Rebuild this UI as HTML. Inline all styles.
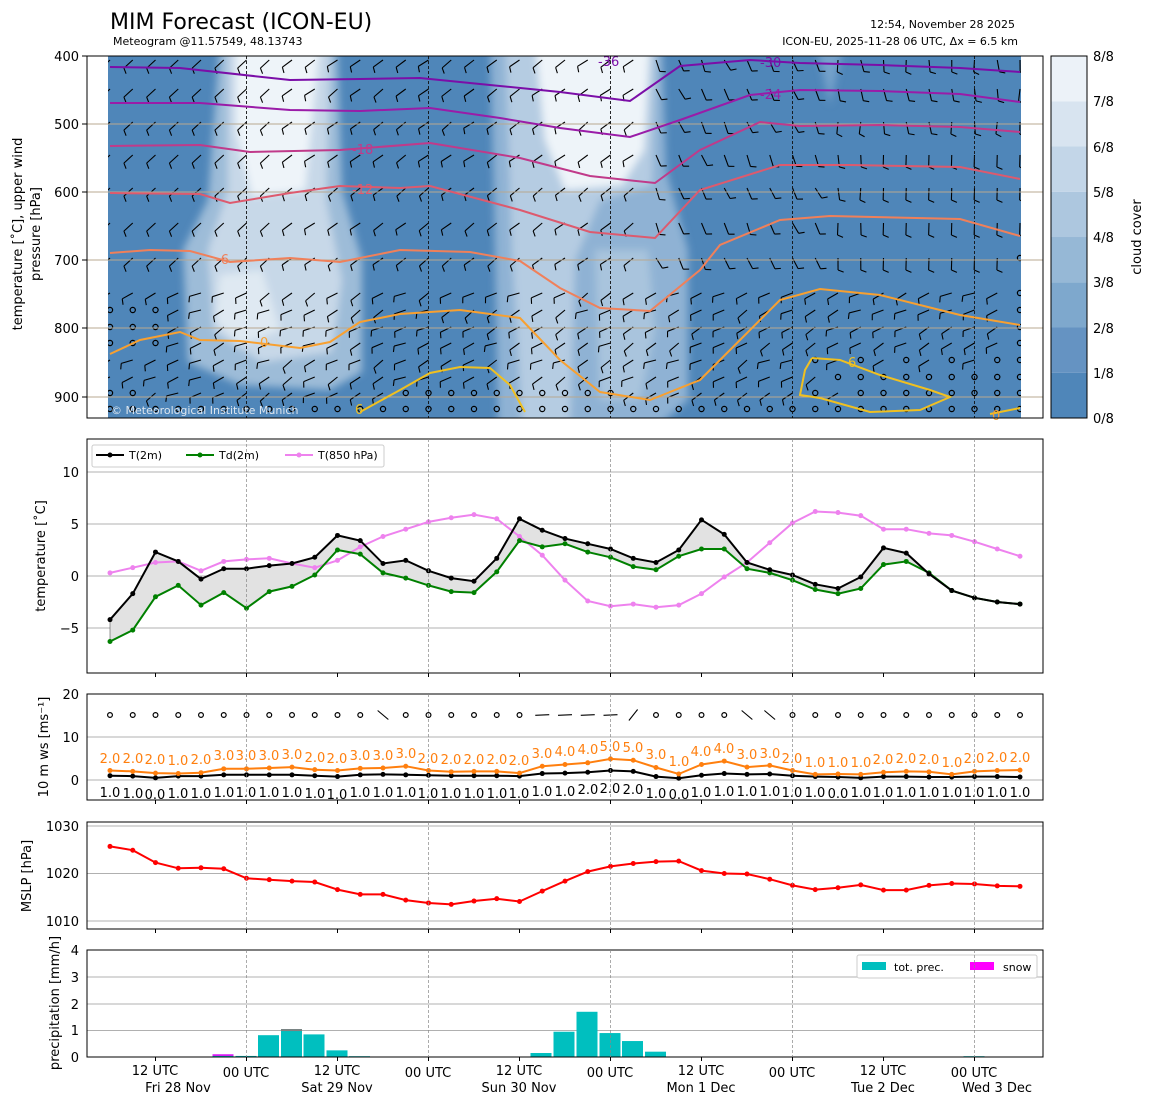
<!DOCTYPE html>
<html><head><meta charset="utf-8"><style>
html,body{margin:0;padding:0;background:#fff;width:1155px;height:1105px;overflow:hidden}
svg{display:block;font-family:"DejaVu Sans","Liberation Sans",sans-serif}
</style></head><body>
<svg id="s" width="1155" height="1105" viewBox="0 0 1155 1105" xmlns="http://www.w3.org/2000/svg">
<defs>
<clipPath id="cp"><rect x="108" y="56" width="913" height="362"/></clipPath>
<filter id="bl" x="-20%" y="-20%" width="140%" height="140%"><feGaussianBlur stdDeviation="4"/></filter>
</defs>
<rect x="108" y="56" width="913" height="362" fill="#4f86b9"/>
<g clip-path="url(#cp)"><g filter="url(#bl)">
<path d="M220,40 L337,40 L342,190 L362,260 L362,372 L330,390 L240,385 L188,362 L183,250 L208,200 Z" fill="#9dbcd8"/>
<path d="M228,40 L330,40 L326,200 L342,280 L332,352 L262,362 L214,332 L208,250 L228,190 Z" fill="#c7d8e8"/>
<path d="M236,40 L320,40 L305,190 L252,196 L236,130 Z" fill="#eef4f9"/>
<path d="M220,275 L262,270 L280,330 L240,345 L215,320 Z" fill="#dfe9f2"/>
<path d="M490,40 L662,40 L666,170 L688,250 L688,400 L660,425 L498,425 L494,200 Z" fill="#8fb2d4"/>
<path d="M505,40 L656,40 L652,185 L600,200 L575,260 L570,425 L522,425 L512,250 Z" fill="#b5cce2"/>
<path d="M595,250 L648,250 L655,330 L640,400 L600,400 Z" fill="#a9c4dd"/>
<path d="M535,40 L650,40 L644,150 L622,185 L565,190 L545,140 Z" fill="#eef4f9"/>
<path d="M815,40 L845,40 L830,105 Z" fill="#75a1ca"/>
</g></g>
<g id="barbs" clip-path="url(#cp)"></g>
<g stroke="#b8a890" stroke-width="1">
<line x1="87" x2="1043" y1="124" y2="124"/><line x1="87" x2="1043" y1="192" y2="192"/><line x1="87" x2="1043" y1="260" y2="260"/><line x1="87" x2="1043" y1="328" y2="328"/><line x1="87" x2="1043" y1="397" y2="397"/>
</g>
<g stroke="#111" stroke-width="0.9" stroke-dasharray="3,2">
<line x1="246.5" x2="246.5" y1="56" y2="418"/><line x1="428.5" x2="428.5" y1="56" y2="418"/><line x1="610.5" x2="610.5" y1="56" y2="418"/><line x1="792.5" x2="792.5" y1="56" y2="418"/><line x1="974.5" x2="974.5" y1="56" y2="418"/>
</g>
<g id="cont" clip-path="url(#cp)" fill="none" stroke-width="2"></g>
<g font-size="13">
<text x="598" y="66" fill="#7b0ea8">-36</text><text x="760" y="67" fill="#7b0ea8">-30</text>
<text x="760" y="99" fill="#9a1ca8">-24</text><text x="352" y="154" fill="#c03a8a">-18</text>
<text x="352" y="194" fill="#dd5a6e">-12</text><text x="260" y="347" fill="#f8a030">0</text>
<text x="848" y="367" fill="#f0c020">6</text><text x="216" y="264" fill="#f0805a">-6</text>
<text x="355" y="414" fill="#f0c020">6</text><text x="992" y="420" fill="#f8a030">0</text>
</g>
<text x="111" y="414" font-size="11" fill="#dde6ef">© Meteorological Institute Munich</text>
<rect x="87" y="56" width="956" height="362" fill="none" stroke="#000" stroke-width="1"/>
<g font-size="13" text-anchor="end"><text x="79" y="61">400</text><text x="79" y="129">500</text><text x="79" y="197">600</text><text x="79" y="265">700</text><text x="79" y="333">800</text><text x="79" y="402">900</text></g>
<g stroke="#000"><line x1="82" x2="87" y1="56" y2="56"/><line x1="82" x2="87" y1="124" y2="124"/><line x1="82" x2="87" y1="192" y2="192"/><line x1="82" x2="87" y1="260" y2="260"/><line x1="82" x2="87" y1="328" y2="328"/><line x1="82" x2="87" y1="397" y2="397"/></g>
<text font-size="13" text-anchor="middle" transform="translate(22,234) rotate(-90)">temperature [˚C], upper wind</text>
<text font-size="13" text-anchor="middle" transform="translate(40,234) rotate(-90)">pressure [hPa]</text>
<g id="cbar"></g>
<rect x="1051" y="56" width="36" height="362" fill="none" stroke="#000"/>
<g font-size="13"><text x="1093" y="423">0/8</text><text x="1093" y="378">1/8</text><text x="1093" y="333">2/8</text><text x="1093" y="287">3/8</text><text x="1093" y="242">4/8</text><text x="1093" y="197">5/8</text><text x="1093" y="152">6/8</text><text x="1093" y="106">7/8</text><text x="1093" y="61">8/8</text></g>
<text font-size="13" text-anchor="middle" transform="translate(1141,237) rotate(-90)">cloud cover</text>
<text x="110" y="29" font-size="22">MIM Forecast (ICON-EU)</text>
<text x="113" y="45" font-size="11">Meteogram @11.57549, 48.13743</text>
<text x="1015" y="28" font-size="11" text-anchor="end">12:54, November 28 2025</text>
<text x="1018" y="45" font-size="11" text-anchor="end">ICON-EU, 2025-11-28 06 UTC, Δx = 6.5 km</text>

<g stroke="#b0b0b0"><line x1="87" x2="1043" y1="472" y2="472"/><line x1="87" x2="1043" y1="524" y2="524"/><line x1="87" x2="1043" y1="576" y2="576"/><line x1="87" x2="1043" y1="628" y2="628"/></g>
<g id="tp"></g>
<rect x="87" y="439" width="956" height="234" fill="none" stroke="#000"/>
<g font-size="13" text-anchor="end"><text x="79" y="477">10</text><text x="79" y="529">5</text><text x="79" y="581">0</text><text x="79" y="633">−5</text></g>
<text font-size="13" text-anchor="middle" transform="translate(45,556) rotate(-90)">temperature [˚C]</text>
<rect x="92" y="445" width="292" height="22" fill="#fff" stroke="#ccc" rx="2"/>
<line x1="96" x2="124" y1="455" y2="455" stroke="#000" stroke-width="2"/><circle cx="110" cy="455" r="2.5"/>
<text x="129" y="459" font-size="11">T(2m)</text>
<line x1="186" x2="214" y1="455" y2="455" stroke="#008000" stroke-width="2"/><circle cx="200" cy="455" r="2.5" fill="#008000"/>
<text x="219" y="459" font-size="11">Td(2m)</text>
<line x1="285" x2="313" y1="455" y2="455" stroke="#ee82ee" stroke-width="2"/><circle cx="299" cy="455" r="2.5" fill="#ee82ee"/>
<text x="318" y="459" font-size="11">T(850 hPa)</text>

<g stroke="#b0b0b0"><line x1="87" x2="1043" y1="737" y2="737"/><line x1="87" x2="1043" y1="780" y2="780"/></g>
<g id="wp"></g>
<rect x="87" y="694" width="956" height="106" fill="none" stroke="#000"/>
<g font-size="13" text-anchor="end"><text x="79" y="699">20</text><text x="79" y="742">10</text><text x="79" y="785">0</text></g>
<text font-size="13" text-anchor="middle" transform="translate(48,747) rotate(-90)">10 m ws [ms⁻¹]</text>
<g font-size="13" fill="#ff7f0e" text-anchor="middle">
<text x="110" y="763">2.0</text><text x="133" y="763">2.0</text><text x="155" y="764">2.0</text><text x="178" y="765">1.0</text><text x="201" y="764">2.0</text><text x="224" y="760">3.0</text><text x="246" y="760">3.0</text><text x="269" y="760">3.0</text><text x="292" y="759">3.0</text><text x="315" y="762">2.0</text><text x="337" y="763">2.0</text><text x="360" y="760">3.0</text><text x="383" y="760">3.0</text><text x="406" y="758">3.0</text><text x="428" y="763">2.0</text><text x="451" y="764">2.0</text><text x="474" y="764">2.0</text><text x="497" y="764">2.0</text><text x="519" y="765">2.0</text><text x="542" y="758">3.0</text><text x="565" y="756">4.0</text><text x="588" y="754">4.0</text><text x="610" y="751">5.0</text><text x="633" y="752">5.0</text><text x="656" y="759">3.0</text><text x="679" y="766">1.0</text><text x="701" y="756">4.0</text><text x="724" y="753">4.0</text><text x="747" y="759">3.0</text><text x="770" y="758">3.0</text><text x="792" y="763">2.0</text><text x="815" y="767">1.0</text><text x="838" y="767">1.0</text><text x="861" y="767">1.0</text><text x="883" y="764">2.0</text><text x="906" y="763">2.0</text><text x="929" y="764">2.0</text><text x="952" y="767">1.0</text><text x="974" y="763">2.0</text><text x="997" y="762">2.0</text><text x="1020" y="762">2.0</text>
</g>
<g font-size="13" fill="#000" text-anchor="middle">
<text x="110" y="797">1.0</text><text x="133" y="798">1.0</text><text x="155" y="799">0.0</text><text x="178" y="798">1.0</text><text x="201" y="798">1.0</text><text x="224" y="797">1.0</text><text x="246" y="797">1.0</text><text x="269" y="797">1.0</text><text x="292" y="797">1.0</text><text x="315" y="798">1.0</text><text x="337" y="799">1.0</text><text x="360" y="797">1.0</text><text x="383" y="797">1.0</text><text x="406" y="797">1.0</text><text x="428" y="798">1.0</text><text x="451" y="798">1.0</text><text x="474" y="798">1.0</text><text x="497" y="798">1.0</text><text x="519" y="798">1.0</text><text x="542" y="796">1.0</text><text x="565" y="796">1.0</text><text x="588" y="794">2.0</text><text x="610" y="793">2.0</text><text x="633" y="794">2.0</text><text x="656" y="798">1.0</text><text x="679" y="799">0.0</text><text x="701" y="797">1.0</text><text x="724" y="796">1.0</text><text x="747" y="796">1.0</text><text x="770" y="796">1.0</text><text x="792" y="797">1.0</text><text x="815" y="797">1.0</text><text x="838" y="798">0.0</text><text x="861" y="797">1.0</text><text x="883" y="797">1.0</text><text x="906" y="797">1.0</text><text x="929" y="797">1.0</text><text x="952" y="797">1.0</text><text x="974" y="797">1.0</text><text x="997" y="797">1.0</text><text x="1020" y="797">1.0</text>
</g>

<g stroke="#b0b0b0"><line x1="87" x2="1043" y1="826" y2="826"/><line x1="87" x2="1043" y1="873.5" y2="873.5"/><line x1="87" x2="1043" y1="921" y2="921"/></g>
<g id="mp"></g>
<rect x="87" y="822" width="956" height="107" fill="none" stroke="#000"/>
<g font-size="13" text-anchor="end"><text x="79" y="831">1030</text><text x="79" y="878">1020</text><text x="79" y="926">1010</text></g>
<text font-size="13" text-anchor="middle" transform="translate(31,876) rotate(-90)">MSLP [hPa]</text>

<g stroke="#b0b0b0"><line x1="87" x2="1043" y1="977" y2="977"/><line x1="87" x2="1043" y1="1004" y2="1004"/><line x1="87" x2="1043" y1="1030.5" y2="1030.5"/></g>
<g id="pp"></g>
<rect x="87" y="950" width="956" height="107" fill="none" stroke="#000"/>
<g font-size="13" text-anchor="end"><text x="79" y="955">4</text><text x="79" y="982">3</text><text x="79" y="1009">2</text><text x="79" y="1035">1</text><text x="79" y="1062">0</text></g>
<text font-size="13" text-anchor="middle" transform="translate(59,1003) rotate(-90)">precipitation [mm/h]</text>
<rect x="857" y="955" width="180" height="23" fill="#fff" stroke="#ccc" rx="2"/>
<rect x="862" y="962" width="24" height="8" fill="#00bfbf"/><text x="894" y="971" font-size="11">tot. prec.</text>
<rect x="970" y="962" width="24" height="8" fill="#ff00ff"/><text x="1003" y="971" font-size="11">snow</text>

<g font-size="13" text-anchor="middle">
<text x="155" y="1075">12 UTC</text><text x="178" y="1092">Fri 28 Nov</text>
<text x="246" y="1077">00 UTC</text>
<text x="337" y="1075">12 UTC</text><text x="337" y="1092">Sat 29 Nov</text>
<text x="428" y="1077">00 UTC</text>
<text x="519" y="1075">12 UTC</text><text x="519" y="1092">Sun 30 Nov</text>
<text x="610" y="1077">00 UTC</text>
<text x="701" y="1075">12 UTC</text><text x="701" y="1092">Mon 1 Dec</text>
<text x="792" y="1077">00 UTC</text>
<text x="883" y="1075">12 UTC</text><text x="883" y="1092">Tue 2 Dec</text>
<text x="974" y="1077">00 UTC</text><text x="997" y="1092">Wed 3 Dec</text>
</g>
<g id="ticks"></g>
</svg>
<script>
var NS="http://www.w3.org/2000/svg";
function el(p,t,a){var e=document.createElementNS(NS,t);for(var k in a)e.setAttribute(k,a[k]);document.getElementById(p).appendChild(e);return e;}
var X=[];for(var i=0;i<41;i++)X.push(110+22.75*i);
var cc=["#4f86b9","#6593c2","#7ea8cd","#96b8d6","#adc7df","#c3d6e8","#d8e4f0","#ecf2f8"];
for(var i=0;i<8;i++)el("cbar","rect",{x:1051,y:418-45.25*(i+1),width:36,height:45.3,fill:cc[i]});
var C=[["#7b0ea8","110,67 180,68 290,80 360,79 420,78 500,86 560,92 630,101 680,66 750,60 800,63 880,65 960,68 1020,72"],
["#9a1ca8","110,103 200,103 290,110 360,111 430,108 500,118 560,128 630,137 680,120 750,95 800,90 880,91 960,94 1020,102"],
["#c03a8a","110,146 200,145 250,152 340,150 430,143 520,158 590,176 655,183 700,150 760,122 800,126 880,125 960,127 1020,132"],
["#dd5a6e","110,193 200,194 230,203 290,193 340,186 400,188 430,186 520,210 590,232 655,238 700,190 780,165 850,165 960,167 1020,179"],
["#f0805a","110,253 150,250 190,251 230,262 290,258 340,262 400,250 470,252 520,261 560,288 600,308 650,311 700,270 720,245 780,220 830,216 960,219 1020,236"],
["#f8a030","110,354 140,340 180,332 200,340 240,341 300,348 330,342 360,322 400,314 460,310 520,318 560,360 600,392 650,400 700,380 740,340 780,300 820,289 880,295 960,315 1020,325"],
["#f0c020","360,412 400,390 430,373 460,367 490,368 510,385 525,412"],
["#f0c020","812,358 840,360 880,375 930,390 950,397 920,410 870,412 820,398 800,395 805,370 812,358"],
["#f0c020","990,414 1020,408"]];
C.forEach(function(c){el("cont","polyline",{points:c[1],stroke:c[0]});});
var rows=[60,89,122,155,188,223,258,293,310,327,343,360,377,393,409];
var seed=7;function rnd(){seed=(seed*9301+49297)%233280;return seed/233280;}
for(var r=0;r<rows.length;r++){for(var i=0;i<41;i++){var x=X[i],y=rows[r];
 var calm=(r>=8&&r<=10&&i<3)||(r>=13&&(i<2||(i>12&&i<23)))||(r>=14)||(i==40&&r>=6)||(i>=31&&i<=39&&r>=11&&(i+r)%2==0)||(i>=33&&r>=12);
 if(calm){el("barbs","circle",{cx:x,cy:y,r:2.6,fill:"none",stroke:"#000","stroke-width":1.2});continue;}
 var a;
 if(r<7){a=(i<8?-2.4:(i<27?-2.6+0.2*rnd():-1.7+0.4*rnd()));if(i>23&&i<32)a=-1.3+0.3*rnd();if(i>=34&&r>=3)a=-1.6;}
 else a=-2.9+0.5*rnd();
 var L=12,dx=Math.cos(a)*L,dy=Math.sin(a)*L;
 var x2=x+dx,y2=y-dy;
 el("barbs","line",{x1:x,y1:y,x2:x2,y2:y2,stroke:"#000","stroke-width":1.1});
 var ta=a+1.2;el("barbs","line",{x1:x2,y1:y2,x2:x2+Math.cos(ta)*6,y2:y2-Math.sin(ta)*6,stroke:"#000","stroke-width":1.1});
}}
var T=[-4.2,-1.7,2.3,1.4,-0.3,0.7,0.7,1.0,1.2,1.8,3.9,3.4,1.2,1.5,0.5,-0.2,-0.5,1.7,5.5,4.4,3.6,3.1,2.6,1.7,1.3,2.5,5.4,4.0,1.3,0.6,0.1,-0.8,-1.2,-0.1,2.7,2.2,0.2,-1.4,-2.1,-2.5,-2.7];
var D=[-6.3,-5.2,-2.0,-0.9,-2.8,-1.6,-3.1,-1.5,-1.0,0.1,2.5,2.1,0.3,-0.2,-0.9,-1.5,-1.6,0.4,3.4,2.8,3.1,2.3,1.8,0.9,0.6,1.9,2.6,2.6,0.7,0.3,-0.4,-1.3,-1.7,-1.2,1.1,1.4,0.3,-1.4,-2.1,-2.5,-2.7];
var H=[0.3,0.8,1.3,1.4,0.5,1.4,1.6,1.7,1.2,0.8,1.5,2.8,3.8,4.5,5.2,5.6,5.9,5.5,3.8,2.0,-0.4,-2.4,-2.9,-2.7,-3.0,-2.8,-1.7,-0.1,1.3,3.2,5.1,6.2,6.1,5.8,4.5,4.5,4.1,3.9,3.3,2.6,1.9];
function ty(v){return 576-10.4*v;}
var pts=function(A,f){return A.map(function(v,i){return X[i]+","+f(v).toFixed(1);}).join(" ");};
var poly=pts(T,ty)+" "+D.map(function(v,i){return X[i]+","+ty(v).toFixed(1);}).reverse().join(" ");
el("tp","polygon",{points:poly,fill:"#e2e2e2",stroke:"#555","stroke-width":0.6});
[[H,"#ee82ee"],[D,"#008000"],[T,"#000"]].forEach(function(s){
 el("tp","polyline",{points:pts(s[0],ty),fill:"none",stroke:s[1],"stroke-width":2});
 s[0].forEach(function(v,i){el("tp","circle",{cx:X[i],cy:ty(v),r:2.5,fill:s[1]});});});
var G=[2.2,2.0,1.6,1.5,1.7,2.6,2.6,2.8,3.0,2.4,2.2,2.7,2.8,3.2,2.2,1.9,2.0,2.0,1.6,3.2,3.6,4.0,4.9,4.6,2.9,1.4,3.6,4.4,3.0,3.4,2.2,1.3,1.4,1.3,1.8,2.0,1.9,1.3,2.0,2.2,2.3];
var W=[1.0,0.9,0.5,0.9,0.9,1.2,1.2,1.2,1.2,1.0,0.8,1.2,1.3,1.2,1.1,1.0,1.0,1.0,0.9,1.5,1.6,1.8,2.2,2.0,0.8,0.4,1.1,1.5,1.3,1.4,1.0,0.8,0.7,0.5,0.8,0.8,0.7,0.7,0.8,0.8,0.7];
function wy(v){return 780-4.3*v;}
[[W,"#000"],[G,"#ff7f0e"]].forEach(function(s){
 el("wp","polyline",{points:pts(s[0],wy),fill:"none",stroke:s[1],"stroke-width":2});
 s[0].forEach(function(v,i){el("wp","circle",{cx:X[i],cy:wy(v),r:2.5,fill:s[1]});});});
for(var i=0;i<41;i++){var bar=[12,19,20,21,22,23,28,29].indexOf(i)>=0;
 if(bar){var a=(i==12||i==28||i==29)?-0.7:(i==23?0.9:0.05);el("wp","line",{x1:X[i]-7*Math.cos(a),y1:715+7*Math.sin(a),x2:X[i]+7*Math.cos(a),y2:715-7*Math.sin(a),stroke:"#000","stroke-width":1.1});}
 else el("wp","circle",{cx:X[i],cy:715,r:2.4,fill:"none",stroke:"#000","stroke-width":1.2});}
var M=[1025.7,1024.9,1022.3,1021.1,1021.2,1021.0,1019.0,1018.7,1018.4,1018.2,1016.6,1015.6,1015.6,1014.4,1013.8,1013.5,1014.2,1014.7,1014.1,1016.3,1018.4,1020.4,1021.5,1022.1,1022.5,1022.6,1020.6,1020.0,1019.9,1018.8,1017.5,1016.6,1017.0,1017.6,1016.5,1016.5,1017.5,1017.9,1017.8,1017.4,1017.3];
function my(v){return 873.5-4.75*(v-1020);}
el("mp","polyline",{points:pts(M,my),fill:"none",stroke:"#f00","stroke-width":2});
M.forEach(function(v,i){el("mp","circle",{cx:X[i],cy:my(v),r:2.5,fill:"#f00"});});
var P=[[223,0.1],[246,0.04],[268.5,0.82],[291.5,1.05],[314,0.85],[337,0.25],[359.5,0.03],[541,0.15],[564,0.95],[587,1.7],[610,0.9],[632.5,0.6],[655.5,0.2],[974,0.03]];
P.forEach(function(p){var h=26.6*p[1];el("pp","rect",{x:p[0]-10.5,y:1057-h,width:21,height:h,fill:"#00bfbf"});
 if(p[0]==291.5)el("pp","rect",{x:p[0]-10.5,y:1057-h,width:21,height:2,fill:"#808080"});
 if(p[0]==223)el("pp","rect",{x:p[0]-10.5,y:1057-h,width:21,height:1.5,fill:"#ff00ff"});});
[[439,673],[694,800],[822,929],[950,1057]].forEach(function(r){[246.5,428.5,610.5,792.5,974.5].forEach(function(x){
 el("ticks","line",{x1:x,x2:x,y1:r[0],y2:r[1],stroke:"#888","stroke-width":0.7,"stroke-dasharray":"3,2"});});
 for(var k=0;k<10;k++){var x=155.5+91*k;el("ticks","line",{x1:x,x2:x,y1:r[1],y2:r[1]+4,stroke:"#000"});}});
</script>
</body></html>
